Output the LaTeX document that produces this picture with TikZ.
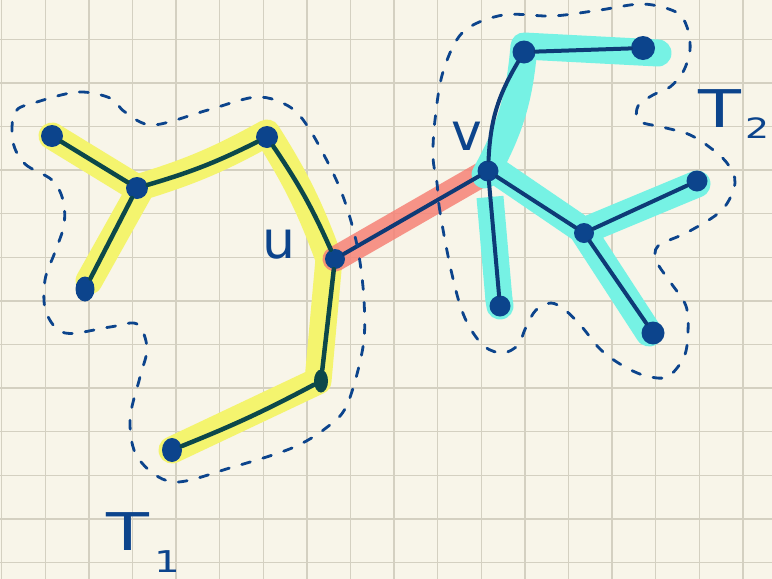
\documentclass[tikz,border=0pt]{standalone}
\usepackage{fontspec}
\newfontfamily\hand{DejaVu Sans}
\usetikzlibrary{shapes.geometric}
\definecolor{paper}{RGB}{248,245,233}
\definecolor{gridc}{RGB}{212,208,193}
\definecolor{ink}{RGB}{12,68,140}
\definecolor{tealink}{RGB}{12,72,74}
\definecolor{navy}{RGB}{14,58,118}
\definecolor{hly}{RGB}{244,244,110}
\definecolor{hlr}{RGB}{246,130,118}
\definecolor{hlc}{RGB}{118,242,228}
\pgfdeclarelayer{back}
\pgfdeclarelayer{hl}
\pgfsetlayers{back,hl,main}
\begin{document}
\begin{tikzpicture}[x=1pt,y=-1pt,
  dot/.style={circle,fill=ink,inner sep=0pt,minimum size=22pt},
  edgeL/.style={draw=tealink,line width=4.5pt,line cap=round},
  edgeR/.style={draw=navy,line width=4pt,line cap=round},
  hlyel/.style={draw=hly,line width=27pt,line cap=round,line join=round},
  hlred/.style={draw=hlr,line width=25pt,line cap=round,opacity=0.85},
  hlcyan/.style={draw=hlc,line width=27pt,line cap=round,line join=round},
  outline/.style={draw=ink,line width=2.8pt,dash pattern=on 9pt off 13pt,line cap=round},
  lab/.style={text=ink,font=\hand\fontsize{52}{52}\selectfont,inner sep=0pt}
]
\useasboundingbox (0,0) rectangle (772,579);
\begin{pgfonlayer}{back}
  \fill[paper] (0,0) rectangle (772,579);
  \foreach \i in {0,...,17} \draw[gridc,line width=1.4pt] ({1.7+43.6*\i},0) -- ({1.7+43.6*\i},579);
  \foreach \j in {0,...,12} \draw[gridc,line width=1.4pt] (0,{39.3+43.6*\j}) -- (772,{39.3+43.6*\j});
\end{pgfonlayer}

% nodes
\node[dot] (a1) at (52,136) {};
\node[dot] (a2) at (137,188) {};
\node[dot] (a3) at (267,137) {};
\node[dot,minimum size=20pt] (u) at (335,259) {};
\node[ellipse,fill=tealink,inner sep=0pt,minimum width=14pt,minimum height=23pt] (a5) at (321,381) {};
\node[ellipse,fill=ink,inner sep=0pt,minimum width=20pt,minimum height=24pt] (a6) at (172,450) {};
\node[ellipse,fill=ink,inner sep=0pt,minimum width=19pt,minimum height=25pt] (a4) at (85,289) {};
\node[dot,minimum size=21pt] (v) at (488,171) {};
\node[dot,minimum size=23pt] (b1) at (524,52) {};
\node[dot,minimum size=24pt] (b2) at (643,48) {};
\node[dot,minimum size=21pt] (b3) at (500,306) {};
\node[dot,minimum size=20pt] (c) at (584,233) {};
\node[dot,minimum size=21pt] (b4) at (697,181) {};
\node[dot,minimum size=23pt] (b5) at (653,333) {};

% highlights
\begin{pgfonlayer}{hl}
  \draw[hlyel] (a1.center) -- (a2.center) to[bend right=6] ([yshift=4pt]a3.center)
    to[bend left=6] ([xshift=-6pt]u.center) -- ([xshift=-3pt]a5.center) -- (a6.center)
    (140,190) -- ([xshift=4pt,yshift=8pt]a4.center);
  \draw[hlred] (u.center) -- (v.center);
  \draw[hlcyan] (658,53) -- ([yshift=6pt]b1.center) to[bend left=12] ([xshift=-3pt,yshift=-4pt]v.center);
  \draw[hlcyan] ([xshift=8pt]v.center) -- ([yshift=2pt]c.center) -- ([yshift=-3pt]b4.center)
    (c.center) -- ([xshift=-4pt]b5.center);
  \draw[hlcyan,line cap=butt] (490,197) -- (499,300);
  \draw[hlcyan] (499,300) -- (500,306);
\end{pgfonlayer}

% edges
\draw[edgeL] (a1) -- (a2);
\draw[edgeL] (a2) to[bend right=5] (a3);
\draw[edgeL] (a2) -- (a4);
\draw[edgeL] (a3) to[bend left=5] (u);
\draw[edgeL] (u) -- (a5);
\draw[edgeL] (a5) to[bend left=3] (a6);
\draw[edgeR] (u) -- (v);
\draw[edgeR] (v) to[bend left=14] (b1);
\draw[edgeR] (b1) -- (b2);
\draw[edgeR] (v) -- (b3);
\draw[edgeR] (v) -- (c);
\draw[edgeR] (c) -- (b4);
\draw[edgeR] (c) -- (b5);

% dashed outlines
\draw[outline] plot[smooth cycle,tension=0.55] coordinates {
  (13,142) (25,164) (52,180) (63,200) (64,225) (55,252) (45,280) (46,312) (65,333)
  (110,327) (137,324) (147,348) (140,377) (130,420) (138,458) (173,482) (233,467)
  (292,448) (326,428) (347,405) (363,347) (364,300) (358,250) (347,208) (334,175)
  (310,130) (290,107) (257,97) (208,110) (153,125) (125,112) (110,98) (78,92)
  (37,102) (15,112)};
\draw[outline] plot[smooth cycle,tension=0.55] coordinates {
  (437,183) (439,205) (444,235) (451,270) (460,305) (470,328) (485,347) (503,353)
  (518,345) (526,327) (536,310) (551,303) (565,310) (582,327) (600,349) (620,364)
  (643,375) (667,377) (684,357) (688,332) (686,306) (671,283) (657,262) (658,246)
  (688,232) (722,210) (735,183) (727,163) (708,146) (688,134) (662,127) (639,121)
  (638,106) (653,95) (670,87) (683,72) (690,50) (687,27) (676,12) (643,4) (600,10)
  (553,16) (503,15) (463,32) (443,72) (435,120) (433,157)};

% labels
\node[lab,anchor=base west] (lu) at (262,258) {u};
\node[lab,anchor=base west] (lv) at (451,150) {v};
\node[lab,anchor=base west,xscale=1.35] (lt1) at (106,550) {T\kern4pt\raisebox{-22pt}{\fontsize{30}{30}\selectfont 1}};
\node[lab,anchor=base west,xscale=1.35] (lt2) at (698,127) {T\kern3pt\raisebox{-11pt}{\fontsize{28}{28}\selectfont 2}};
\end{tikzpicture}
\end{document}
